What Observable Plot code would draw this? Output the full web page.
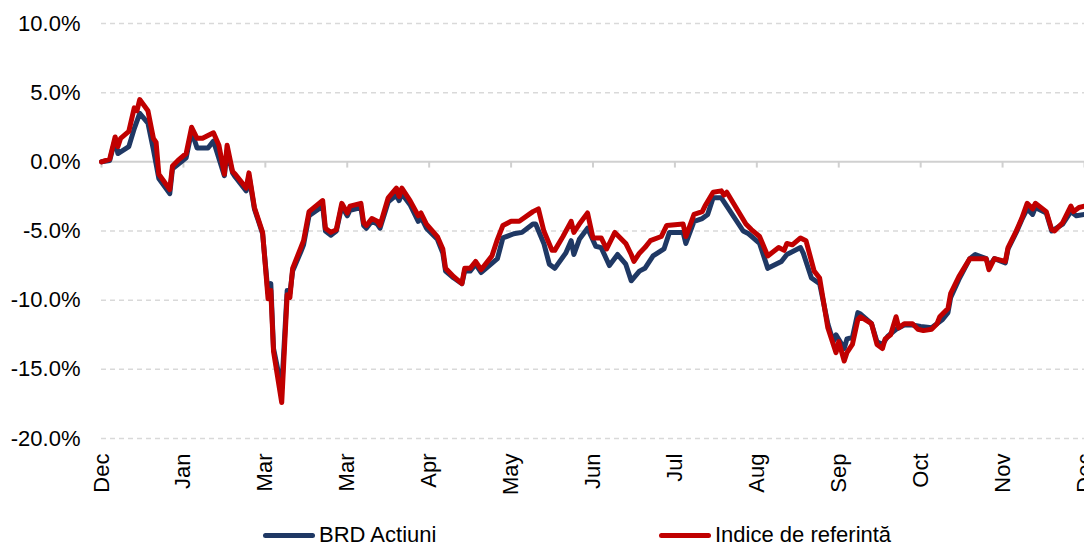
<!DOCTYPE html>
<html>
<head>
<meta charset="utf-8">
<script src="https://cdn.jsdelivr.net/npm/d3@7"></script>
<script src="https://cdn.jsdelivr.net/npm/@observablehq/plot@0.6"></script>
<style>
  body { margin: 0; background: #fff; font-family: Arial, "Liberation Sans", sans-serif; }
  #wrap { position: relative; width: 1084px; height: 546px; overflow: hidden; }
  .leg { position: absolute; top: 524px; height: 22px; display: flex; align-items: center; font-size: 22px; line-height: 22px; color: #000; white-space: nowrap; }
  .leg span { line-height: 22px; }
  .sw { width: 52px; height: 5px; border-radius: 3px; margin-right: 4px; }
</style>
</head>
<body>
<div id="wrap"></div>
<script>
// X tick labels (one per month step of 30 days) and y ticks
const monthLabels = ["Dec","Jan","Mar","Mar","Apr","May","Jun","Jul","Aug","Sep","Oct","Nov","Dec"];
const monthTicks = [0,30,60,90,120,150,180,210,240,270,300,330,360];
const yTicks = [-20,-15,-10,-5,0,5,10];

// BRD Actiuni (% change), day index
const brdDays = [0,3,5,6,10,12,14,17,19,21,25,26,31,33,35,39,41,45,46,48,49,53,54,56,59,61,62,63,66,68,69,70,73,74,76,81,82,84,86,88,90,91,95,96,97,99,101,102,105,108,109,110,113,116,117,119,123,125,126,129,132,133,135,137,139,145,147,151,154,158,159,162,164,166,170,172,173,175,178,181,183,186,189,192,194,197,199,202,206,208,213,214,217,220,222,224,227,229,235,237,241,244,249,251,256,257,260,263,266,268,269,272,273,275,277,278,282,284,286,288,291,294,297,300,304,308,310,311,314,318,320,324,325,327,331,332,335,337,339,341,342,346,348,352,355,357,360];
const brdValues = [0.0,0.1,1.6,0.6,1.1,2.4,3.5,2.8,0.9,-1.2,-2.3,-0.5,0.3,2.2,1.0,1.0,1.5,-1.0,0.8,-0.8,-1.1,-2.1,-1.0,-3.4,-5.2,-9.5,-8.8,-13.5,-16.4,-9.3,-9.5,-7.9,-6.5,-6.0,-3.9,-3.2,-5.0,-5.3,-5.0,-3.2,-3.9,-3.5,-3.3,-4.6,-4.8,-4.3,-4.5,-4.8,-2.9,-2.4,-2.8,-2.3,-3.1,-4.3,-4.0,-4.8,-5.6,-6.6,-7.9,-8.4,-8.8,-7.9,-7.9,-7.4,-8.0,-7.0,-5.5,-5.2,-5.1,-4.5,-4.5,-5.9,-7.4,-7.7,-6.6,-5.7,-6.7,-5.6,-4.8,-6.1,-6.2,-7.5,-6.7,-7.4,-8.6,-7.9,-7.7,-6.8,-6.3,-5.1,-5.1,-5.9,-4.3,-4.1,-3.8,-2.6,-2.6,-3.2,-5.0,-5.2,-5.9,-7.7,-7.2,-6.7,-6.2,-6.6,-8.4,-8.8,-11.7,-13.0,-12.5,-13.5,-12.8,-12.7,-10.9,-11.0,-11.7,-13.0,-13.2,-12.6,-12.1,-11.8,-11.8,-11.9,-12.0,-11.4,-10.9,-9.8,-8.5,-7.0,-6.7,-7.0,-7.6,-7.0,-7.3,-6.3,-5.1,-4.2,-3.4,-3.8,-3.3,-3.7,-5.0,-4.5,-3.6,-3.9,-3.8];

// Indice de referinta (% change), day index
const idxDays = [0,3,5,6,7,10,12,13,14,17,19,20,21,25,26,28,31,33,35,37,41,43,45,46,48,49,53,54,56,59,61,62,63,66,68,69,70,73,74,76,81,82,84,86,88,90,91,95,96,97,99,101,102,105,108,109,110,113,116,117,119,123,125,126,129,132,133,135,137,139,143,145,147,150,153,158,160,162,165,166,169,172,173,175,178,180,183,185,188,192,194,195,197,199,201,205,207,213,214,217,220,221,224,227,228,229,236,238,241,244,248,250,251,253,256,258,261,263,266,269,270,272,273,275,277,278,282,284,286,287,289,291,292,294,297,299,301,304,306,307,310,311,314,318,320,324,325,327,331,332,335,337,339,341,342,346,348,349,352,355,356,358,360];
const idxValues = [0.0,0.2,1.8,1.1,1.7,2.2,3.9,3.7,4.5,3.7,1.7,1.4,-0.9,-2.0,-0.3,0.1,0.6,2.5,1.7,1.7,2.1,1.2,-0.9,1.2,-0.7,-0.9,-1.9,-0.8,-3.3,-5.1,-9.9,-9.3,-13.7,-17.4,-9.6,-9.8,-7.7,-6.2,-5.7,-3.6,-2.8,-4.8,-5.1,-4.9,-3.0,-3.7,-3.2,-3.0,-4.4,-4.6,-4.1,-4.3,-4.6,-2.6,-1.9,-2.5,-1.9,-2.8,-3.9,-3.7,-4.5,-5.4,-6.3,-7.7,-8.3,-8.8,-7.7,-7.7,-7.2,-7.8,-6.8,-5.6,-4.6,-4.3,-4.3,-3.6,-3.4,-5.0,-6.4,-6.4,-5.4,-4.3,-5.1,-4.5,-3.7,-5.5,-5.5,-6.3,-5.1,-5.9,-6.7,-7.2,-6.6,-6.2,-5.7,-5.4,-4.6,-4.5,-5.4,-3.8,-3.6,-3.2,-2.2,-2.1,-2.4,-2.2,-4.5,-4.9,-5.4,-6.8,-6.2,-6.4,-5.9,-6.0,-5.5,-5.7,-7.9,-8.4,-12.0,-13.8,-13.0,-14.4,-13.8,-13.2,-11.4,-11.2,-11.7,-13.2,-13.5,-12.8,-12.5,-11.2,-12.0,-11.7,-11.7,-12.1,-12.2,-12.1,-11.7,-11.2,-10.6,-9.5,-8.3,-7.0,-7.0,-7.0,-7.8,-7.0,-7.2,-6.2,-5.0,-4.1,-3.0,-3.4,-3.0,-3.6,-4.9,-5.0,-4.4,-3.2,-3.6,-3.3,-3.2];

const seriesNames = ["BRD Actiuni", "Indice de referintă"];
const seriesColors = ["#1F3864", "#C00000"];

const brd = brdDays.map((d, i) => ({day: d, value: brdValues[i]}));
const idx = idxDays.map((d, i) => ({day: d, value: idxValues[i]}));

const chart = Plot.plot({
  width: 1084,
  height: 520,
  marginLeft: 101,
  marginRight: 0,
  marginTop: 23,
  marginBottom: 82,
  x: {domain: [0, 360]},
  y: {domain: [-20, 10]},
  style: {fontFamily: "Arial, 'Liberation Sans', sans-serif", fontSize: "22px", color: "#000", background: "#fff"},
  marks: [
    Plot.ruleY(yTicks.filter(d => d !== 0), {stroke: "#d9d9d9", strokeWidth: 1.5, strokeDasharray: "5,4"}),
    Plot.ruleY([0], {stroke: "#d0d0d0", strokeWidth: 2}),
    Plot.ruleX(monthTicks, {y1: 0, y2: -0.45, stroke: "#d0d0d0", strokeWidth: 2}),
    Plot.axisY({ticks: yTicks, tickSize: 0, tickPadding: 21, label: null, fontSize: 22, tickFormat: d => d.toFixed(1) + "%"}),
    Plot.axisX({ticks: monthTicks, tickSize: 0, tickPadding: 15, tickRotate: -90, label: null, fontSize: 22,
      tickFormat: d => monthLabels[monthTicks.indexOf(d)]}),
    Plot.line(brd, {x: "day", y: "value", stroke: seriesColors[0], strokeWidth: 5, strokeLinejoin: "round"}),
    Plot.line(idx, {x: "day", y: "value", stroke: seriesColors[1], strokeWidth: 5, strokeLinejoin: "round"})
  ]
});

const wrap = document.getElementById("wrap");
wrap.appendChild(chart);

const legPos = [263, 659];
seriesNames.forEach((name, i) => {
  const item = document.createElement("div");
  item.className = "leg";
  item.style.left = legPos[i] + "px";
  const sw = document.createElement("div");
  sw.className = "sw";
  sw.style.background = seriesColors[i];
  const tx = document.createElement("span");
  tx.textContent = name;
  item.appendChild(sw);
  item.appendChild(tx);
  wrap.appendChild(item);
});
</script>
</body>
</html>
